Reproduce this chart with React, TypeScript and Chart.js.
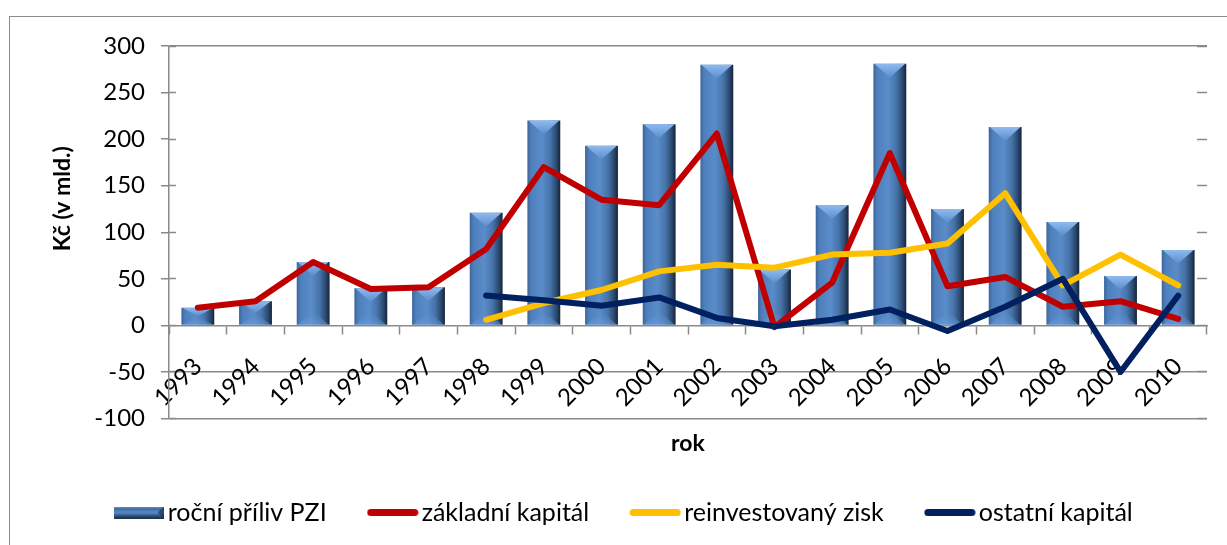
import { useEffect, useRef } from 'react';
import { Chart, registerables } from 'chart.js';

Chart.register(...registerables);

// ---------- data ----------
const years = ['1993', '1994', '1995', '1996', '1997', '1998', '1999', '2000', '2001', '2002', '2003', '2004', '2005', '2006', '2007', '2008', '2009', '2010'];
const annualInflow = [19, 26, 68, 40, 41, 121, 220, 193, 216, 280, 60, 129, 281, 125, 213, 111, 53, 81];
const equityCapital = [19, 26, 68, 39, 41, 82, 170, 135, 129, 206, -2, 46, 185, 42, 52, 20, 26, 7];
const reinvestedEarnings = [null, null, null, null, null, 6, 24, 38, 58, 65, 62, 76, 78, 88, 142, 43, 76, 43];
const otherCapital = [null, null, null, null, null, 32, 27, 21, 30, 8, -1, 6, 17, -6, 20, 50, -50, 32];
const seriesLabels = ['roční příliv PZI', 'základní kapitál', 'reinvestovaný zisk', 'ostatní kapitál'];
const yMin = -100;
const yMax = 300;
const yStep = 50;
const gridValues = [300, -50, -100];

const GRAY = '#8a8a8a';
const BAR_PCT = 0.57;
const FONT = 'Lato';

const ok = (...v: number[]) => v.every((n) => typeof n === 'number' && isFinite(n));

function barGradient(c: CanvasRenderingContext2D, left: number, right: number) {
  const g = c.createLinearGradient(left, 0, right, 0);
  g.addColorStop(0, '#3d6598');
  g.addColorStop(0.12, '#4f80bd');
  g.addColorStop(0.45, '#5a8cca');
  g.addColorStop(0.7, '#4673a8');
  g.addColorStop(0.88, '#2b4a70');
  g.addColorStop(1, '#15233a');
  return g;
}

const bevelPlugin = {
  id: 'bevel',
  afterDatasetDraw(chart: any, args: any) {
    if (args.index !== 0) return;
    const c: CanvasRenderingContext2D = chart.ctx;
    const meta = chart.getDatasetMeta(0);
    c.save();
    meta.data.forEach((el: any) => {
      const { x, y, base, width } = el.getProps(['x', 'y', 'base', 'width'], true);
      if (!ok(x, y, base, width)) return;
      const l = x - width / 2;
      const r = x + width / 2;
      const h = Math.abs(base - y);
      const d = Math.min(width * 0.42, h / 2);
      if (d <= 0) return;
      const gt = c.createLinearGradient(0, y, 0, y + d);
      gt.addColorStop(0, '#8fbaf0');
      gt.addColorStop(1, '#5b8dcc');
      c.fillStyle = gt;
      c.beginPath();
      c.moveTo(l + 1, y);
      c.lineTo(r - 1, y);
      c.lineTo(x, y + d);
      c.closePath();
      c.fill();
      const gb = c.createLinearGradient(0, base, 0, base - d);
      gb.addColorStop(0, 'rgba(110,160,225,0.55)');
      gb.addColorStop(1, 'rgba(90,140,205,0.0)');
      c.fillStyle = gb;
      c.beginPath();
      c.moveTo(l + 1, base);
      c.lineTo(r - 1, base);
      c.lineTo(x, base - d);
      c.closePath();
      c.fill();
    });
    c.restore();
  },
};

function makeBarSwatch() {
  const cv = document.createElement('canvas');
  cv.width = 50;
  cv.height = 12;
  const c = cv.getContext('2d')!;
  const g = c.createLinearGradient(0, 0, 0, 12);
  g.addColorStop(0, '#6d9ad4');
  g.addColorStop(0.2, '#3f6aa0');
  g.addColorStop(0.5, '#5a8cca');
  g.addColorStop(0.8, '#2e4f78');
  g.addColorStop(1, '#1a2c44');
  c.fillStyle = g;
  c.fillRect(0, 0, 50, 12);
  c.fillStyle = 'rgba(20,35,60,0.6)';
  c.beginPath();
  c.moveTo(50, 0);
  c.lineTo(44, 6);
  c.lineTo(50, 12);
  c.closePath();
  c.fill();
  return cv;
}

function makeLineSwatch(color: string) {
  const cv = document.createElement('canvas');
  cv.width = 52;
  cv.height = 9;
  const c = cv.getContext('2d')!;
  c.strokeStyle = color;
  c.lineWidth = 7;
  c.lineCap = 'round';
  c.beginPath();
  c.moveTo(4, 4.5);
  c.lineTo(48, 4.5);
  c.stroke();
  return cv;
}

export default function App() {
  const ref = useRef<HTMLCanvasElement>(null);

  useEffect(() => {
    const canvas = ref.current!;
    Chart.defaults.font.family = FONT;
    Chart.defaults.color = '#000';
    const swatches = [makeBarSwatch(), makeLineSwatch('#c00000'), makeLineSwatch('#ffc000'), makeLineSwatch('#002060')];

    const lineCommon = {
      type: 'line' as const,
      borderWidth: 6,
      pointRadius: 0,
      pointHoverRadius: 0,
      tension: 0,
      borderJoinStyle: 'round' as const,
      borderCapStyle: 'round' as const,
      fill: false,
      xAxisID: 'x',
      yAxisID: 'y',
    };

    const chart = new Chart(canvas, {
      type: 'bar',
      data: {
        labels: years,
        datasets: [
          {
            type: 'bar',
            label: seriesLabels[0],
            data: annualInflow,
            order: 3,
            xAxisID: 'x',
            yAxisID: 'y',
            barPercentage: BAR_PCT,
            categoryPercentage: 1,
            backgroundColor: (ctx: any) => {
              const ch = ctx.chart;
              const xs = ch && ch.scales ? ch.scales.x : null;
              if (!xs || ctx.type !== 'data') return '#4f81bd';
              const cx = xs.getPixelForValue(ctx.dataIndex);
              const w = (xs.width / years.length) * BAR_PCT;
              if (!ok(cx, w) || w <= 0) return '#4f81bd';
              return barGradient(ch.ctx, cx - w / 2, cx + w / 2);
            },
            borderWidth: 0,
          } as any,
          { ...lineCommon, label: seriesLabels[1], data: equityCapital, borderColor: '#c00000', backgroundColor: '#c00000', order: 2 } as any,
          { ...lineCommon, label: seriesLabels[2], data: reinvestedEarnings, borderColor: '#ffc000', backgroundColor: '#ffc000', order: 1 } as any,
          { ...lineCommon, label: seriesLabels[3], data: otherCapital, borderColor: '#002060', backgroundColor: '#002060', order: 0 } as any,
        ],
      },
      options: {
        responsive: false,
        animation: false,
        devicePixelRatio: 1,
        layout: { padding: { left: 48, right: 20, top: 46, bottom: 10 } },
        plugins: {
          tooltip: { enabled: false },
          legend: {
            position: 'bottom',
            labels: {
              usePointStyle: true,
              pointStyleWidth: 33,
              boxHeight: 12,
              padding: 49.5,
              color: '#000',
              font: { family: FONT, size: 25 },
              sort: (a: any, b: any) => a.datasetIndex - b.datasetIndex,
              generateLabels: (ch: any) => {
                const items = (Chart.defaults.plugins.legend.labels as any).generateLabels(ch);
                items.forEach((it: any) => {
                  it.pointStyle = swatches[it.datasetIndex];
                  it.fillStyle = '#4f81bd';
                });
                return items;
              },
            },
          },
        },
        scales: {
          x: {
            type: 'category',
            position: { y: 0 } as any,
            offset: true,
            grid: { display: true, drawOnChartArea: false, drawTicks: true, tickLength: 8, tickColor: GRAY, tickWidth: 1.5, offset: true },
            border: { display: true, color: GRAY, width: 1.5 },
            ticks: { minRotation: 45, maxRotation: 45, autoSkip: false, padding: 19, color: '#000', font: { family: FONT, size: 24 } },
          },
          x2: {
            type: 'category',
            position: 'bottom',
            labels: years,
            offset: true,
            grid: { display: false },
            border: { display: false },
            ticks: { display: false },
            title: {
              display: true,
              text: 'rok',
              color: '#000',
              font: { family: FONT, size: 23, weight: 'bold', lineHeight: 1 },
              padding: { top: 0, bottom: -4.5 },
            },
            afterFit: (s: any) => {
              s.height = 32;
            },
          },
          y: {
            position: 'left',
            weight: 1,
            min: yMin,
            max: yMax,
            ticks: { stepSize: yStep, padding: 16, color: '#000', font: { family: FONT, size: 24 } },
            grid: {
              color: (c: any) => (c.tick && gridValues.includes(c.tick.value) ? GRAY : 'rgba(0,0,0,0)'),
              lineWidth: 1.5,
              tickColor: GRAY,
              tickWidth: 1.5,
              tickLength: 8,
            },
            border: { display: true, color: GRAY, width: 1.5 },
            title: {
              display: true,
              text: '            Kč (v mld.)',
              color: '#000',
              font: { family: FONT, size: 23, weight: 'bold' },
              padding: { top: 1, bottom: 0 },
            },
            afterFit: (s: any) => {
              s.width = 121;
            },
          },
          y3: {
            position: 'left',
            weight: 0,
            min: yMin,
            max: yMax,
            ticks: { stepSize: yStep, display: false },
            grid: { drawOnChartArea: false, drawTicks: true, tickLength: -7, tickColor: GRAY, tickWidth: 1.5 },
            border: { display: false },
            afterFit: (s: any) => {
              s.width = 0;
            },
          },
          y2: {
            position: 'right',
            min: yMin,
            max: yMax,
            ticks: { stepSize: yStep, display: false },
            grid: { drawOnChartArea: false, drawTicks: true, tickLength: -10, tickColor: GRAY, tickWidth: 1.5 },
            border: { display: false },
            afterFit: (s: any) => {
              s.width = 0;
            },
          },
        },
      } as any,
      plugins: [bevelPlugin],
    });

    return () => chart.destroy();
  }, []);

  return (
    <div style={{ position: 'absolute', left: 0, top: 0, width: 1227, height: 545, overflow: 'hidden', background: '#fff' }}>
      <div
        style={{
          position: 'absolute',
          left: 9,
          top: 16,
          width: 1400,
          height: 800,
          border: '1.5px solid #8a8a8a',
          boxSizing: 'border-box',
        }}
      />
      <canvas ref={ref} width={1227} height={545} style={{ position: 'absolute', left: 0, top: 0, width: 1227, height: 545 }} />
    </div>
  );
}
